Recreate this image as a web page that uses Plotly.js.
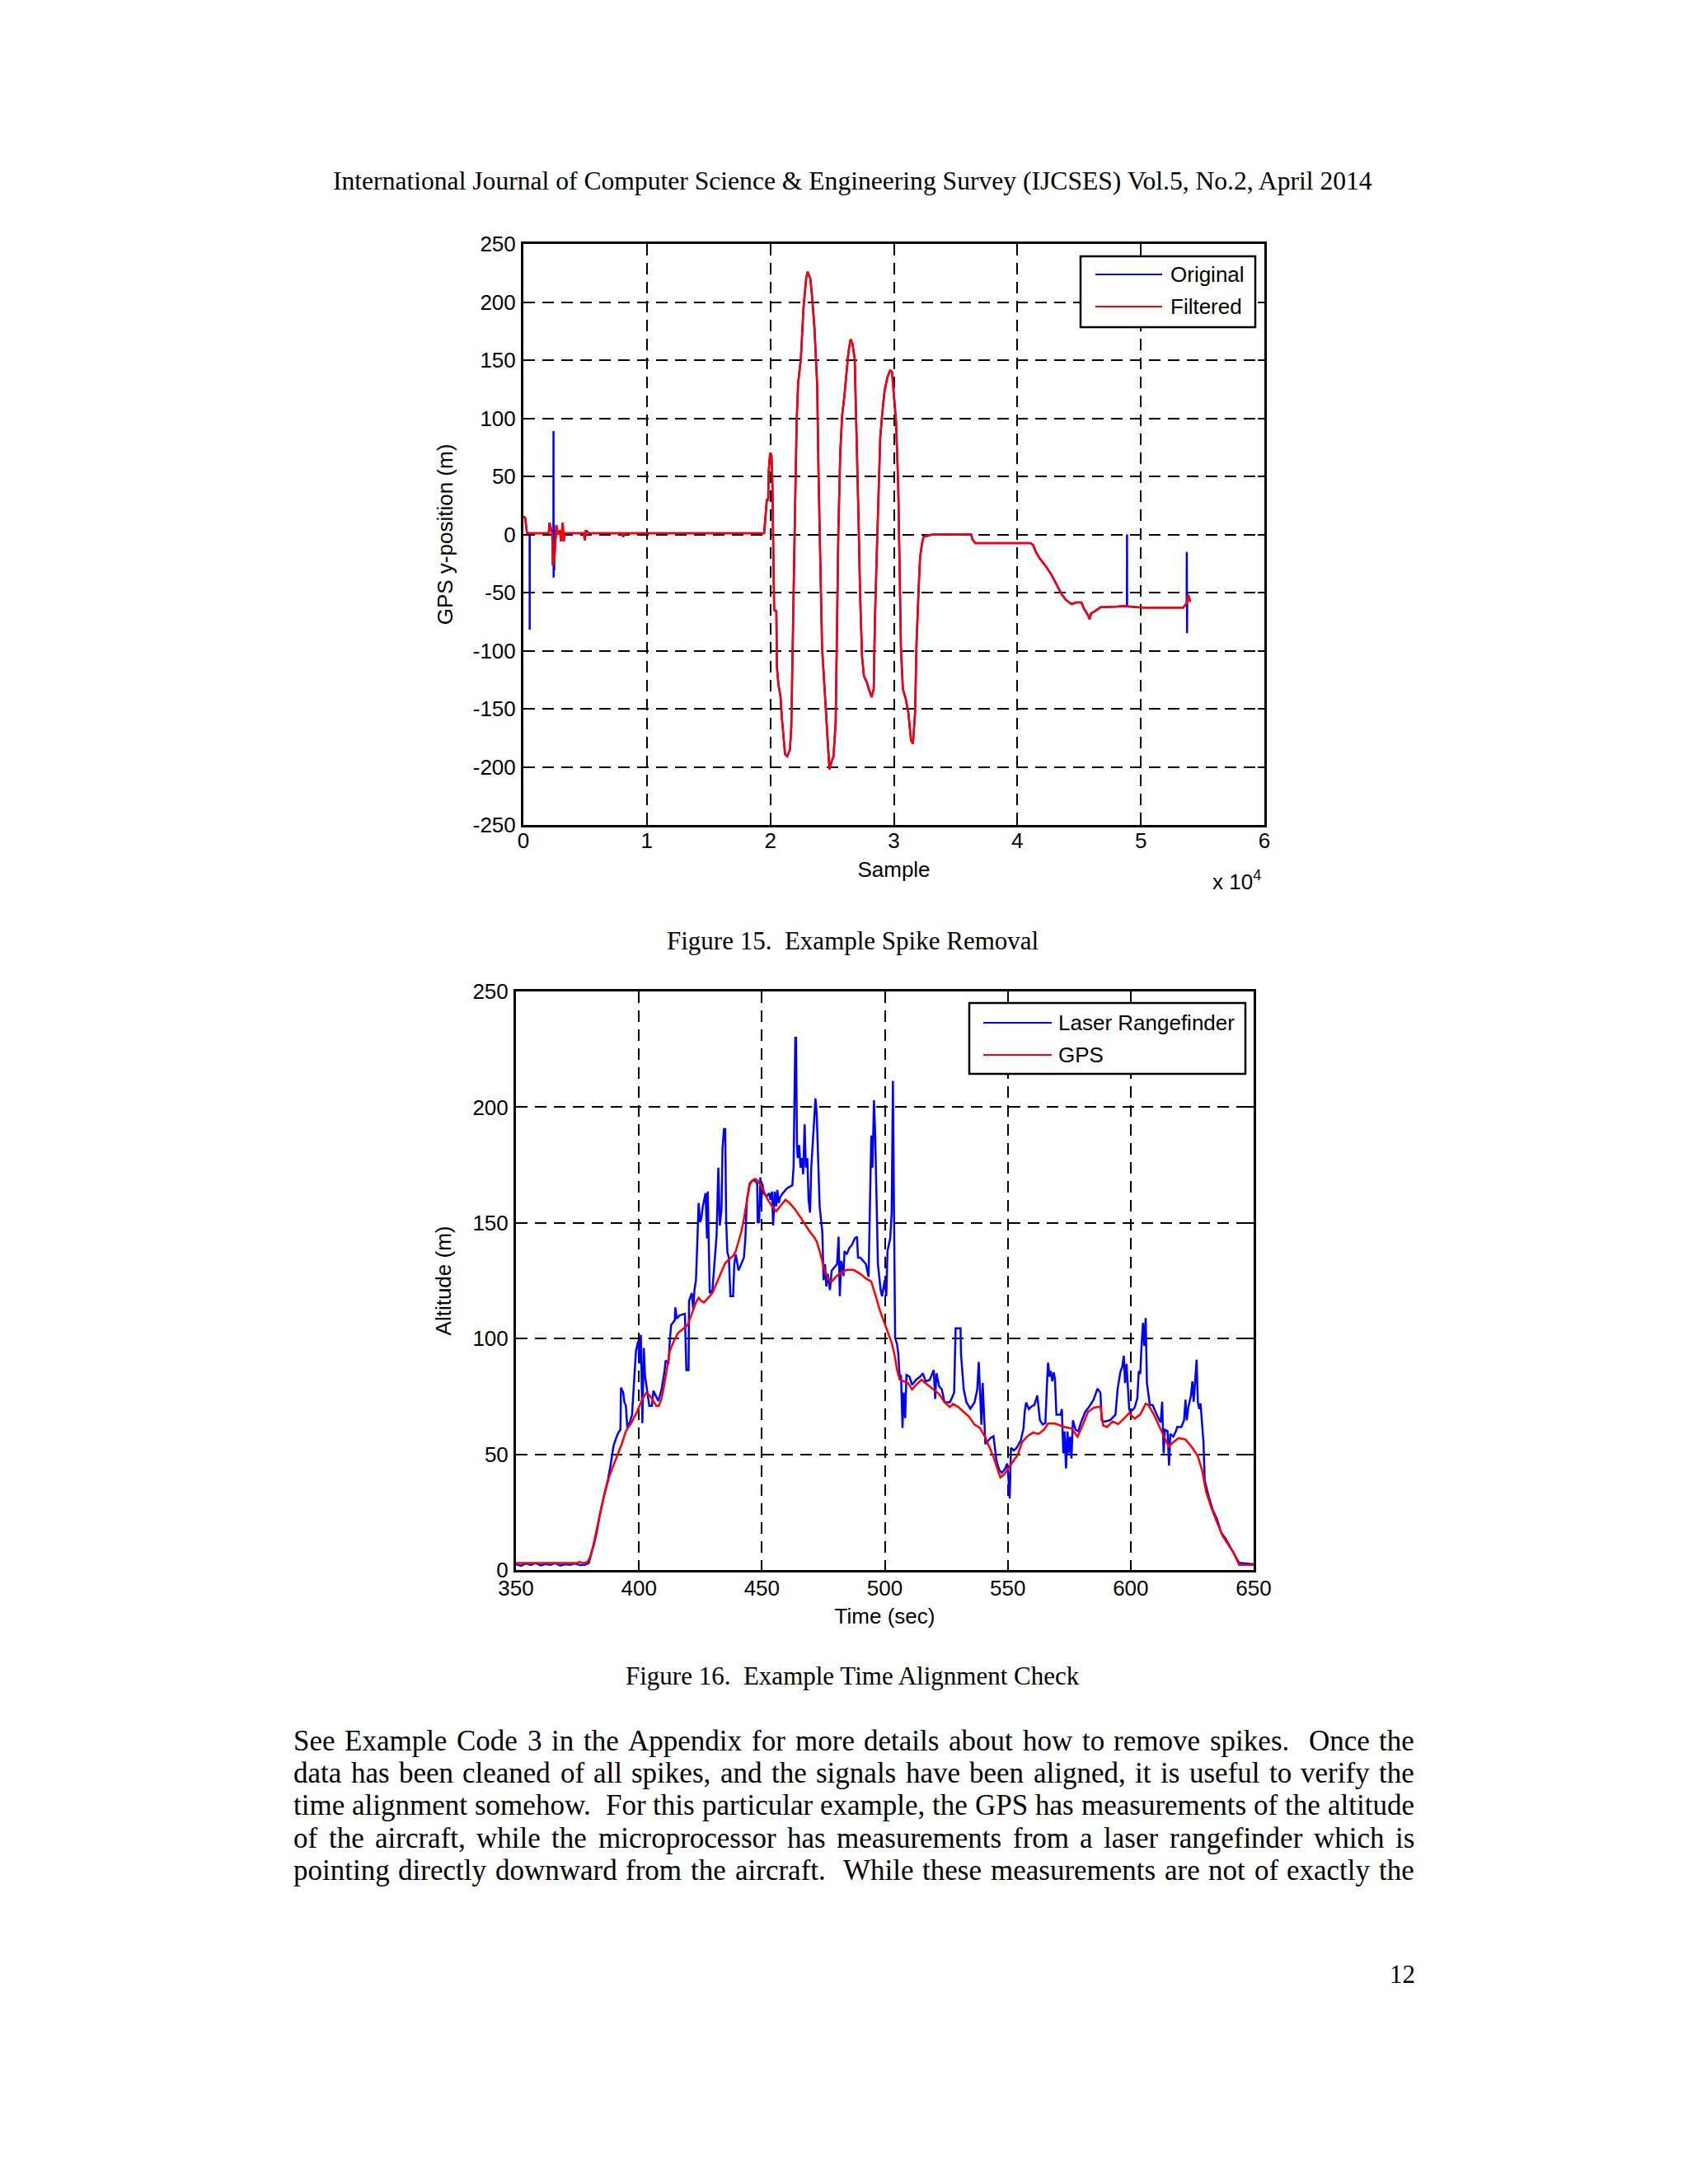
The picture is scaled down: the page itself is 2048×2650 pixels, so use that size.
<!DOCTYPE html>
<html><head><meta charset="utf-8">
<script src="https://cdn.plot.ly/plotly-3.0.1.min.js"></script>
<style>html,body{margin:0;padding:0;background:#fff;} #page{width:2048px;height:2650px;}</style>
</head><body><div id="page"></div>
<script>
// ---------- Figure 15 data (sample index, GPS y-position in m) ----------
const filteredSample = [0,60,150,290,
 2050,2116,2339,2383,2517,2673,2784,2962,3051,3185,3274,3341,
 4900,4967,5050,5122,5300,8000,8085,8170,
 19493,19559,19714,19824,19868,19978,20088,20154,20220,20308,
 20485,20529,20661,20815,20925,21102,21190,21366,21586,21696,
 21762,21917,22027,22137,22247,22467,22578,22688,22908,23018,
 23238,23349,23569,23789,23899,24054,24186,24340,24451,24605,
 24781,24935,25111,25287,25375,25508,25662,25816,25992,26168,
 26323,26499,26653,26829,26984,27138,27270,27424,27578,27799,
 27975,28195,28371,28460,28636,28768,28900,29076,29253,29473,
 29693,29847,30002,30178,30354,30442,30574,30729,30949,31169,
 31390,31544,31720,31830,31940,32009,32121,32277,32411,33125,
 36250,36362,36585,41049,41272,41496,41830,42277,42723,43170,
 43616,43951,44397,44732,45179,45402,45737,45848,45960,46295,
 46741,48080,48750,49643,50089,53438,53549,53705,53839,53996];
const filteredY = [15,15,14,1,
 1,10,0,-27,-20,8,0,3.5,-6,10,-6,1,
 1,-5,3,3,1,1,-2,1,
 1,9,30,30,55,70,68,50,-5,-65,
 -66,-114,-130,-139,-157,-177,-189,-191,-185,-165,
 -119,-41,39,100,130,151,173,196,221,226,
 220,208,178,129,52,-33,-97,-124,-145,-175,
 -202,-196,-191,-162,-85,4,71,103,119,138,
 157,168,164,151,87,14,-53,-105,-122,-127,
 -133,-140,-133,-76,-9,39,84,106,124,135,
 141,140,122,97,42,-28,-98,-133,-141,-153,
 -177,-180,-153,-95,-60,-46,-20,-8,-2,0,
 0,-4,-7.4,-7.4,-9,-15,-21,-27,-34,-43.6,
 -52,-56.5,-60,-58.5,-58.5,-64,-69.7,-73,-68,-66,
 -62.5,-62,-61.5,-62.5,-63,-63,-61,-59,-52,-58];
// spikes present only in the original signal
const spikeSample = [505,512,519, 2430,2440,2450,2460,2480,2500,2510, 48870,48880,48890, 53710,53720,53740,53760];
const spikeY      = [1,-82,1,     -10,89,-37,8,-30,-30,0,            -62,0,-62,          -59,-15,-85,-55];
const fig15XTicks = [0,10000,20000,30000,40000,50000,60000];
const fig15XText  = ['0','1','2','3','4','5','6'];
const fig15YTicks = [-250,-200,-150,-100,-50,0,50,100,150,200,250];
const fig15YText  = ['-250','-200','-150','-100','-50','0','50','100','150','200','250'];

// ---------- Figure 16 data (time s, altitude m) ----------
const gpsTime = [350,361.2,375.1,375.7,377.4,379.1,380.2,381.3,382.4,383.5,
 384.6,385.8,386.9,388.0,389.7,391.3,393.0,394.7,396.9,399.2,
 401.4,403.1,404.7,405.9,407.0,408.1,409.2,410.3,411.5,412.6,
 414.2,415.9,418.2,419.8,421.5,423.2,424.3,425.4,426.5,428.2,
 429.9,431.6,433.2,434.9,436.6,438.3,439.4,440.5,441.6,442.7,
 443.9,445.0,446.1,447.2,448.3,449.4,450.2,452.4,454.1,455.8,
 457.4,459.6,461.3,463.5,465.7,467.9,469.6,471.2,472.3,473.5,
 474.6,475.7,477.3,478.4,480.1,482.3,484.5,487.3,490.0,492.3,
 494.5,495.6,496.7,497.8,499.4,501.1,502.8,503.9,505.0,506.1,
 507.7,509.4,511.1,512.7,514.9,516.6,518.8,522.1,524.3,526.5,
 527.7,529.9,532.1,534.3,536.5,538.7,540.9,542.6,544.2,545.9,
 547.0,548.7,551.3,554.1,555.8,558.0,560.3,562.5,564.7,566.4,
 569.2,571.5,573.1,575.9,578.4,580.4,582.6,584.9,587.7,588.8,
 590.4,592.7,594.9,597.2,599.4,601.6,603.9,606.1,607.2,609.4,
 611.7,613.9,615.4,617.3,619.5,622.3,625.1,627.3,629.0,630.7,
 632.9,635.1,637.4,639.6,641.8,644.1,650];
const gpsAlt = [3,3,3,3.5,3,3.5,5.8,10,15.6,21,
 26.7,32,36.4,40.6,45.4,49.6,54.4,60,63.5,68.3,
 73.9,76.7,75,73,71,71,74,80,87.8,94.7,
 98.9,102.4,104.4,105.8,110.7,115.6,117.6,116.2,115.6,117.6,
 119.7,123.9,128,132.2,134.3,135.7,137.8,141.9,146,151.7,
 160,166.3,168.3,169,168.3,166.3,164.9,160,157.2,155,
 157.2,160,158.6,155.8,152.4,148.9,146,144,142,137.8,
 133.6,128.75,125.3,124.6,126.7,128.75,129.7,129.7,128,126,
 124.6,121,117,112.8,107.9,103,98.2,93.3,86.4,82.2,
 81.5,80.8,78,80,82.2,80.8,78.75,76,72.5,70.4,
 71.8,70.4,68.3,66.25,62.8,61.4,57.2,53,48.9,43.3,
 40,41.4,45.7,49.8,55.2,57.8,59.4,58.8,60.6,63.3,
 63.3,62.4,61.8,61.2,57.6,62.4,68.3,70.1,70.7,62.4,
 61.8,64.2,63,65.4,67.8,65.4,67.2,71.9,71.3,67.2,
 61.8,56.4,53.4,55.2,57,56.4,52.8,49.2,43.2,33.7,
 26.6,20.6,14.7,11.1,7.6,2.2,2.2];
const laserTime = [350,352,354,356,358,360,362,364,366,368,
 370,372,374,376,378,379.6,380.7,381.8,383.0,384.1,
 385.8,387.4,388.5,389.1,389.7,390.8,391.6,392.5,392.7,393.6,
 394.1,394.7,395.3,396.4,397.2,398.0,398.8,399.7,400.3,400.8,
 401.4,402.0,402.5,403.1,403.6,404.2,405.3,405.9,407.0,407.9,
 409.2,410.3,410.9,412.0,412.6,413.1,414.6,414.8,415.4,416.5,
 418.7,419.3,420.2,420.4,421.5,422.1,422.6,423.2,423.7,424.3,
 424.9,425.4,426.0,427.1,427.7,428.0,428.8,429.9,431.6,432.3,
 432.9,433.6,434.0,434.6,435.1,435.5,436.0,436.6,437.2,438.3,
 438.8,439.4,440.5,441.6,442.7,443.3,443.9,444.4,445.0,446.1,
 447.2,448.1,448.3,448.9,449.4,449.7,450.2,450.8,451.9,453.0,
 453.5,454.1,454.6,455.2,455.8,456.3,456.9,457.4,458.5,460.2,
 462.4,462.9,463.3,463.6,463.9,464.3,464.6,465.2,465.7,466.3,
 466.8,467.4,467.9,468.5,469.0,469.6,470.1,470.7,471.2,471.8,
 472.3,472.9,473.5,474.6,475.1,475.7,476.2,476.8,477.7,478.4,
 479.5,480.6,481.2,481.7,482.3,483.2,483.6,484.5,485.6,486.7,
 487.8,488.7,489.1,490.0,491.2,492.3,493.4,493.9,494.5,495.0,
 495.6,496.1,496.7,497.2,498.3,498.9,500.0,500.6,501.1,502.2,
 502.8,503.3,503.7,504.2,505.0,505.5,506.1,506.6,507.2,507.7,
 508.3,508.8,510.0,511.1,512.7,514.4,515.5,516.6,518.3,519.9,
 520.5,521.0,522.1,523.2,524.3,526.5,528.2,528.8,530.8,531.0,
 532.1,533.2,534.8,536.5,537.6,538.2,538.7,539.3,539.8,540.4,
 540.9,542.0,543.1,544.2,545.4,546.5,547.6,548.7,549.8,550.2,
 550.8,551.3,552.5,553.6,555.3,556.4,556.9,557.5,558.6,559.7,
 560.8,562.0,562.5,563.1,564.2,565.3,565.9,566.4,567.0,567.5,
 568.1,568.7,569.2,569.8,571.5,572.0,572.6,573.1,573.7,574.3,
 574.8,575.4,575.9,576.5,577.6,578.7,579.8,581.5,583.2,584.9,
 586.5,587.7,588.2,589.3,591.6,593.8,594.7,595.8,596.6,597.2,
 597.7,598.3,599.4,599.9,601.6,602.7,603.3,603.9,604.4,605.0,
 605.5,606.1,606.6,607.8,608.9,610.0,611.1,612.2,612.8,613.4,
 613.9,615.0,615.6,616.1,617.3,618.4,618.9,620.6,621.7,622.3,
 622.8,623.4,624.5,625.1,625.6,626.2,626.8,627.3,627.9,628.4,
 629.0,629.6,630.1,631.8,633.5,635.1,636.8,638.5,640.7,642.4,
 644.1,650];
const laserAlt = [2.5,1.8,2.8,2.2,3,2,2.6,2.2,3,1.9,
 2.5,2.2,2.8,2.1,2.2,3,7.2,11.4,17,24,
 32,39,45.4,50,53.75,57.2,59.3,60.7,78.75,76.7,
 72.5,71,61.4,64.2,66.9,80.8,94.7,98.9,89.2,101.7,
 63.5,96,83.6,79.4,75,71,71,77.4,75,73,
 78,85,90.6,89,99.6,105.8,108,113.5,108.6,110,
 110.7,86.4,86.4,116.25,119.7,112.8,121,125.3,139.9,158.6,
 150.3,152,157.2,162.8,143.3,163.5,119.7,121,144.7,173.9,
 148.9,155.8,182.2,190.5,190.5,150.3,137.1,135,118.3,118.3,
 132.2,136.4,129.4,132,135,143.3,160,162.8,166.9,168.3,
 168.3,166.9,150.3,150.3,169.7,157.2,167,162.8,161.4,162.8,
 160,163.5,148.9,163.5,157.2,164.2,158.6,161,162.8,164.9,
 166.25,173.9,212.8,230,230,183.6,178,183.6,173.9,178,
 171,192.6,173.9,178,160,154.4,173.9,183.6,190.5,203.75,
 197.5,180.8,157.2,146,125.3,132.2,122.5,128,121,129.4,
 130.8,132.2,144,118.3,133.6,127,137.8,136.4,139.2,140.6,
 143.3,144,135,135,133.6,132.2,126.7,155.8,187.8,173.9,
 203,187.8,162.8,132.2,121,118.3,125.3,118.3,137.8,143.3,
 154.4,211.4,160,100.3,97.5,93.3,82.2,84.3,61.4,76.7,
 65.6,84.3,83.6,80,82.2,83.6,85,81.5,82.2,86.4,
 73.9,85,79.4,78,72.5,72.5,76.7,104.4,104.4,93.3,
 78,72.5,69.7,72.5,78,89.9,78,62.8,80.8,62.8,
 54.4,55.8,57.2,57.8,47.5,43.3,42,43.3,46,41,
 30.9,52.8,51.6,52.8,56,61.2,68.3,72.4,69.5,70.7,
 71.3,75.4,70.7,64.7,62.9,63.5,78.9,89.6,83.6,86,
 81.5,85.4,82.5,67.1,67.1,69.5,50.4,59.9,43.9,59.9,
 50.4,57.6,48.2,64.7,60.6,60,63.8,68.3,70.7,73.6,
 78.4,76.6,64.7,64.1,64.7,67.1,78.4,85.5,87.9,92.6,
 80.8,89.1,69.5,68.3,70.1,74.2,86,84.8,96.8,106.8,
 96.8,108.9,80.8,71.3,71.3,68.3,65.9,63.8,72.7,50.4,
 60.6,60,45.2,58.8,57.6,60,61.8,61.8,64.7,73.6,
 64.7,70.1,75.4,81.5,72.7,81.5,90.9,72.5,69.5,72,
 64.7,55.2,38.6,31.5,25.6,22,16.1,13.7,9.6,6.6,
 3.1,2.5];
const fig16XTicks = [350,400,450,500,550,600,650];
const fig16YTicks = [0,50,100,150,200,250];

// ---------- page text ----------
const headerText = 'International Journal of Computer Science &amp; Engineering Survey (IJCSES) Vol.5, No.2, April 2014';
const caption15 = 'Figure 15.  Example Spike Removal';
const caption16 = 'Figure 16.  Example Time Alignment Check';
const bodyLines = [
 'See Example Code 3 in the Appendix for more details about how to remove spikes.  Once the',
 'data has been cleaned of all spikes, and the signals have been aligned, it is useful to verify the',
 'time alignment somehow.  For this particular example, the GPS has measurements of the altitude',
 'of the aircraft, while the microprocessor has measurements from a laser rangefinder which is',
 'pointing directly downward from the aircraft.  While these measurements are not of exactly the'];
const pageNumber = '12';

// ---------- build ----------
const W = 2048, H = 2650;
const px = x => x / W, py = y => 1 - y / H;
const SANS = '"Liberation Sans", Arial, sans-serif';
const SERIF = '"Liberation Serif", "Times New Roman", serif';
const BLUE = '#0000ff', RED = '#ff0000';

// original = filtered merged with spike samples
const origPairs = filteredSample.map((s, i) => [s, filteredY[i]])
  .concat(spikeSample.map((s, i) => [s, spikeY[i]]))
  .sort((a, b) => a[0] - b[0]);

const traces = [
 {x: origPairs.map(p => p[0]), y: origPairs.map(p => p[1]), xaxis: 'x', yaxis: 'y', mode: 'lines', name: 'Original', line: {color: BLUE, width: 2.5}},
 {x: filteredSample, y: filteredY, xaxis: 'x', yaxis: 'y', mode: 'lines', name: 'Filtered', line: {color: RED, width: 2.5}},
 {x: laserTime, y: laserAlt, xaxis: 'x2', yaxis: 'y2', mode: 'lines', name: 'Laser Rangefinder', line: {color: BLUE, width: 2.5}},
 {x: gpsTime, y: gpsAlt, xaxis: 'x2', yaxis: 'y2', mode: 'lines', name: 'GPS', line: {color: RED, width: 2.5}}
];

function ax(extra) {
  return Object.assign({
    showline: true, linecolor: '#000', linewidth: 3, mirror: 'ticks',
    ticks: 'inside', ticklen: 8, tickwidth: 2, tickcolor: '#000',
    showgrid: true, gridcolor: '#000', gridwidth: 2, griddash: '14px,9px',
    zeroline: false, fixedrange: true, automargin: false,
    tickfont: {family: SANS, size: 26, color: '#000'}
  }, extra);
}
const titleFont = {family: SANS, size: 26, color: '#000'};

const layout = {
  width: W, height: H, margin: {l: 0, r: 0, t: 0, b: 0},
  paper_bgcolor: '#ffffff', plot_bgcolor: '#ffffff', showlegend: false,
  xaxis: ax({domain: [px(635), px(1534)], anchor: 'y', range: [0, 60000], tickmode: 'array',
    tickvals: fig15XTicks, ticktext: fig15XText, ticklabelstandoff: -6,
    title: {text: 'Sample', font: titleFont, standoff: 12}}),
  yaxis: ax({domain: [py(1001), py(296)], anchor: 'x', range: [-250, 250], tickmode: 'array',
    tickvals: fig15YTicks, ticktext: fig15YText, ticklabelstandoff: 1,
    title: {text: 'GPS y-position (m)', font: titleFont, standoff: 17}}),
  xaxis2: ax({domain: [px(626), px(1521)], anchor: 'y2', range: [350, 650], tickmode: 'array',
    tickvals: fig16XTicks, ticklabelstandoff: -3,
    title: {text: 'Time (sec)', font: titleFont, standoff: 11}}),
  yaxis2: ax({domain: [py(1905), py(1203)], anchor: 'x2', range: [0, 250], tickmode: 'array',
    tickvals: fig16YTicks, ticklabelstandoff: 1,
    title: {text: 'Altitude (m)', font: titleFont, standoff: 19}}),
  shapes: [], annotations: []
};

// custom MATLAB-style legends
function legend(box, entries) {
  layout.shapes.push({type: 'rect', xref: 'paper', yref: 'paper', x0: px(box[0]), x1: px(box[2]),
    y0: py(box[3]), y1: py(box[1]), line: {color: '#000', width: 2.5}, fillcolor: '#ffffff', layer: 'above'});
  entries.forEach(e => {
    layout.shapes.push({type: 'line', xref: 'paper', yref: 'paper', x0: px(e.x0), x1: px(e.x1),
      y0: py(e.y), y1: py(e.y), line: {color: e.color, width: 2}, layer: 'above'});
    layout.annotations.push({xref: 'paper', yref: 'paper', x: px(e.tx), y: py(e.y), text: e.text,
      showarrow: false, xanchor: 'left', yanchor: 'middle', font: {family: SANS, size: 26, color: '#000'}});
  });
}
legend([1311, 311, 1523, 397], [
  {x0: 1329, x1: 1410, y: 333, color: BLUE, text: 'Original', tx: 1418},
  {x0: 1329, x1: 1410, y: 372, color: RED, text: 'Filtered', tx: 1418}]);
legend([1176, 1217, 1511, 1303], [
  {x0: 1193, x1: 1276, y: 1241, color: BLUE, text: 'Laser Rangefinder', tx: 1282},
  {x0: 1193, x1: 1276, y: 1280, color: RED, text: 'GPS', tx: 1282}]);

function note(text, x, y, size, family, anchor) {
  layout.annotations.push({xref: 'paper', yref: 'paper', x: px(x), y: py(y), text: text,
    showarrow: false, xanchor: anchor || 'center', yanchor: 'middle',
    font: {family: family, size: size, color: '#000'}});
}
note('x 10<sup>4</sup>', 1500, 1068, 26, SANS);
note(headerText, 1034, 220, 31.6, SERIF);
note(caption15, 1034, 1141, 31, SERIF);
note(caption16, 1034, 2033, 31, SERIF);
note(pageNumber, 1701, 2395, 31, SERIF);

// justified body paragraph
const BODY_SIZE = 35;
const ctx = document.createElement('canvas').getContext('2d');
ctx.font = BODY_SIZE + 'px "Liberation Serif"';
const lineY = [2112, 2151, 2190, 2230, 2269];
const left = 355, right = 1715;
bodyLines.forEach((line, li) => {
  const words = [], weights = [];
  let pending = 0;
  line.split(' ').forEach(t => {
    if (t === '') { pending++; return; }
    if (words.length) weights.push(1 + pending);
    words.push(t); pending = 0;
  });
  const widths = words.map(w => ctx.measureText(w).width);
  const total = widths.reduce((a, b) => a + b, 0);
  const wsum = weights.reduce((a, b) => a + b, 0);
  const unit = Math.max(4, (right - left - total) / wsum);
  let x = left;
  words.forEach((w, i) => {
    layout.annotations.push({xref: 'paper', yref: 'paper', x: px(x), y: py(lineY[li]), text: w,
      showarrow: false, xanchor: 'left', yanchor: 'middle', borderpad: 0,
      font: {family: SERIF, size: BODY_SIZE, color: '#000'}});
    x += widths[i] + (i < weights.length ? weights[i] * unit : 0);
  });
});

Plotly.newPlot('page', traces, layout, {displayModeBar: false, staticPlot: true});
</script></body></html>
